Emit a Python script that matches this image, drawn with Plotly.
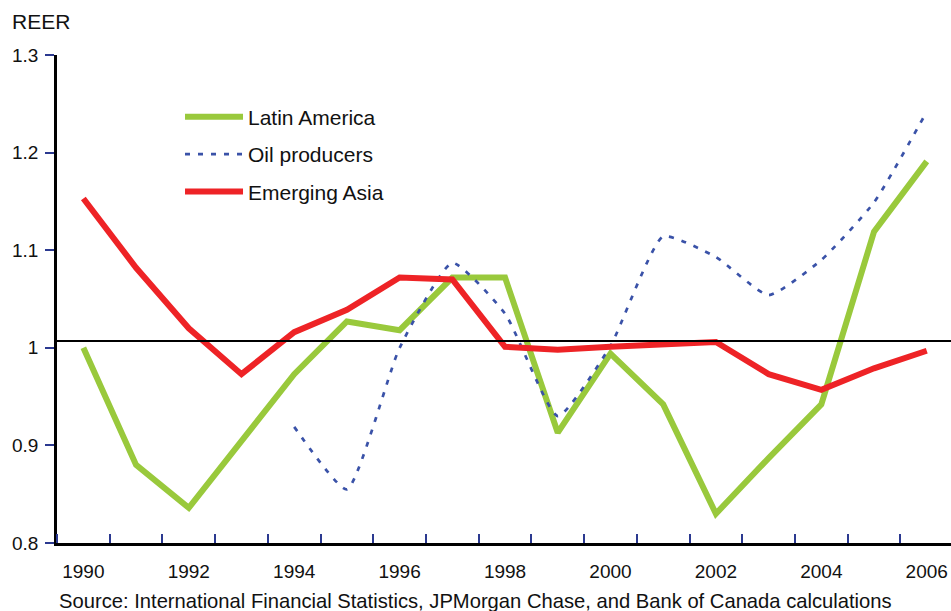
import plotly.graph_objects as go

years = list(range(1990, 2007))

latin_america = [1.000, 0.880, 0.836, 0.905, 0.973, 1.027, 1.018, 1.072, 1.072, 0.913,
                 0.994, 0.942, 0.830, 0.887, 0.942, 1.119, 1.191]
oil_years = list(range(1994, 2007))
oil_producers = [0.919, 0.855, 1.000, 1.087, 1.035, 0.930, 1.002, 1.114, 1.093, 1.054,
                 1.090, 1.149, 1.242]
emerging_asia = [1.153, 1.082, 1.020, 0.973, 1.016, 1.039, 1.072, 1.070, 1.001, 0.998,
                 1.001, 1.004, 1.006, 0.973, 0.957, 0.979, 0.997]

ref_level = 1.007
even_years = list(range(1990, 2007, 2))

FONT = "Liberation Sans, Arial, sans-serif"
NAVY = "#2b3990"

fig = go.Figure()
fig.add_trace(go.Scatter(x=years, y=latin_america, name="Latin America", mode="lines",
                         line=dict(color="#99c93c", width=6), legendgroup="a"))
fig.add_trace(go.Scatter(x=oil_years, y=oil_producers, name="Oil producers", mode="lines",
                         line=dict(color="#3a52a8", width=2.7, dash="5px,8px",
                                   shape="spline", smoothing=0.5),
                         legendgroup="b"))
fig.add_trace(go.Scatter(x=years, y=emerging_asia, name="Emerging Asia", mode="lines",
                         line=dict(color="#ee2326", width=6), legendgroup="c"))

fig.add_shape(type="line", xref="paper", yref="y", x0=0, x1=1, y0=ref_level, y1=ref_level,
              line=dict(color="black", width=2), layer="above")

fig.update_layout(
    width=951, height=611,
    margin=dict(l=57, r=0, t=55, b=68, autoexpand=False),
    paper_bgcolor="white", plot_bgcolor="white",
    font=dict(family=FONT, size=19, color="#111111"),
    showlegend=True,
    legend=dict(x=0.1376, y=0.9145, xanchor="left", yanchor="top",
                font=dict(size=21), bgcolor="rgba(0,0,0,0)", itemwidth=58,
                traceorder="grouped", tracegroupgap=7),
    xaxis=dict(range=[1989.5, 2006.46], tickvals=even_years, ticks="", automargin=False,
               showgrid=False, zeroline=False, showline=True,
               linecolor="black", linewidth=2.5, ticklabelstandoff=9,
               minor=dict(tick0=1989.5, dtick=1, ticks="inside", ticklen=9,
                          tickcolor=NAVY, tickwidth=2, showgrid=False)),
    yaxis=dict(range=[0.8, 1.3], tickvals=[0.8, 0.9, 1.0, 1.1, 1.2, 1.3], automargin=False,
               ticktext=["0.8", "0.9", "1", "1.1", "1.2", "1.3"],
               ticks="outside", ticklen=9, tickcolor=NAVY, tickwidth=2,
               ticklabelstandoff=3,
               showgrid=False, zeroline=False, showline=True,
               linecolor="black", linewidth=2.5),
)

fig.add_annotation(text="REER", xref="paper", yref="paper", x=-0.0526, y=1.068,
                   xanchor="left", yanchor="middle", showarrow=False,
                   font=dict(size=21))
fig.add_annotation(text="Source: International Financial Statistics, JPMorgan Chase, and Bank of Canada calculations",
                   xref="paper", yref="paper", x=0.0, y=-0.1195,
                   xanchor="left", yanchor="middle", showarrow=False,
                   font=dict(size=20.2))

# drop the browser's default 8px body margin so the figure fills the window
fig.write_html("out.html", config={"displayModeBar": False},
               post_script="document.body.style.margin='0';document.body.style.overflow='hidden';")
